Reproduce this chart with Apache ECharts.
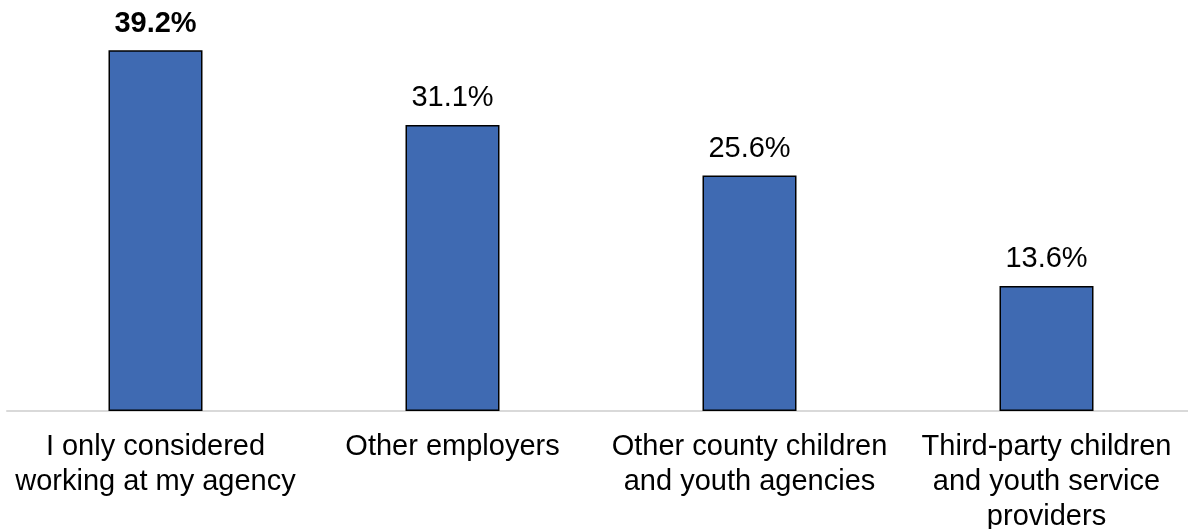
<!DOCTYPE html>
<html>
<head>
<meta charset="utf-8">
<script src="https://cdn.jsdelivr.net/npm/echarts@6/dist/echarts.min.js"></script>
<style>
html,body{margin:0;padding:0;background:#fff;}
#chart{width:1188px;height:529px;}
</style>
</head>
<body>
<div id="chart"></div>
<script>
// Where respondents looked for work
var categories = [
  'I only considered\nworking at my agency',
  'Other employers',
  'Other county children\nand youth agencies',
  'Third-party children\nand youth service\nproviders'
];
var shares = [39.2, 31.1, 25.6, 13.6];
var boldIndex = 0;

var chart = echarts.init(document.getElementById('chart'));
chart.setOption({
  animation: false,
  grid: { left: 7, right: -7, top: 43, bottom: 118, containLabel: false, outerBoundsMode: 'none' },
  xAxis: {
    type: 'category',
    data: categories,
    axisTick: { show: false },
    axisLine: { lineStyle: { color: '#d9d9d9', width: 2 } },
    axisLabel: {
      interval: 0,
      margin: 18,
      color: '#000',
      fontFamily: 'Liberation Sans, Arial, sans-serif',
      fontSize: 29,
      lineHeight: 35
    }
  },
  yAxis: {
    type: 'value',
    min: 0,
    max: 40,
    show: false,
    splitLine: { show: false }
  },
  series: [{
    type: 'bar',
    barWidth: 94,
    data: shares.map(function (v, i) {
      return {
        value: v,
        label: { fontWeight: i === boldIndex ? 'bold' : 'normal' }
      };
    }),
    itemStyle: { color: '#3f6ab2', borderColor: '#000', borderWidth: 1.5 },
    label: {
      show: true,
      position: 'top',
      distance: 12,
      color: '#000',
      fontFamily: 'Liberation Sans, Arial, sans-serif',
      fontSize: 29,
      formatter: function (p) { return p.value.toFixed(1) + '%'; }
    }
  }]
});
</script>
</body>
</html>
